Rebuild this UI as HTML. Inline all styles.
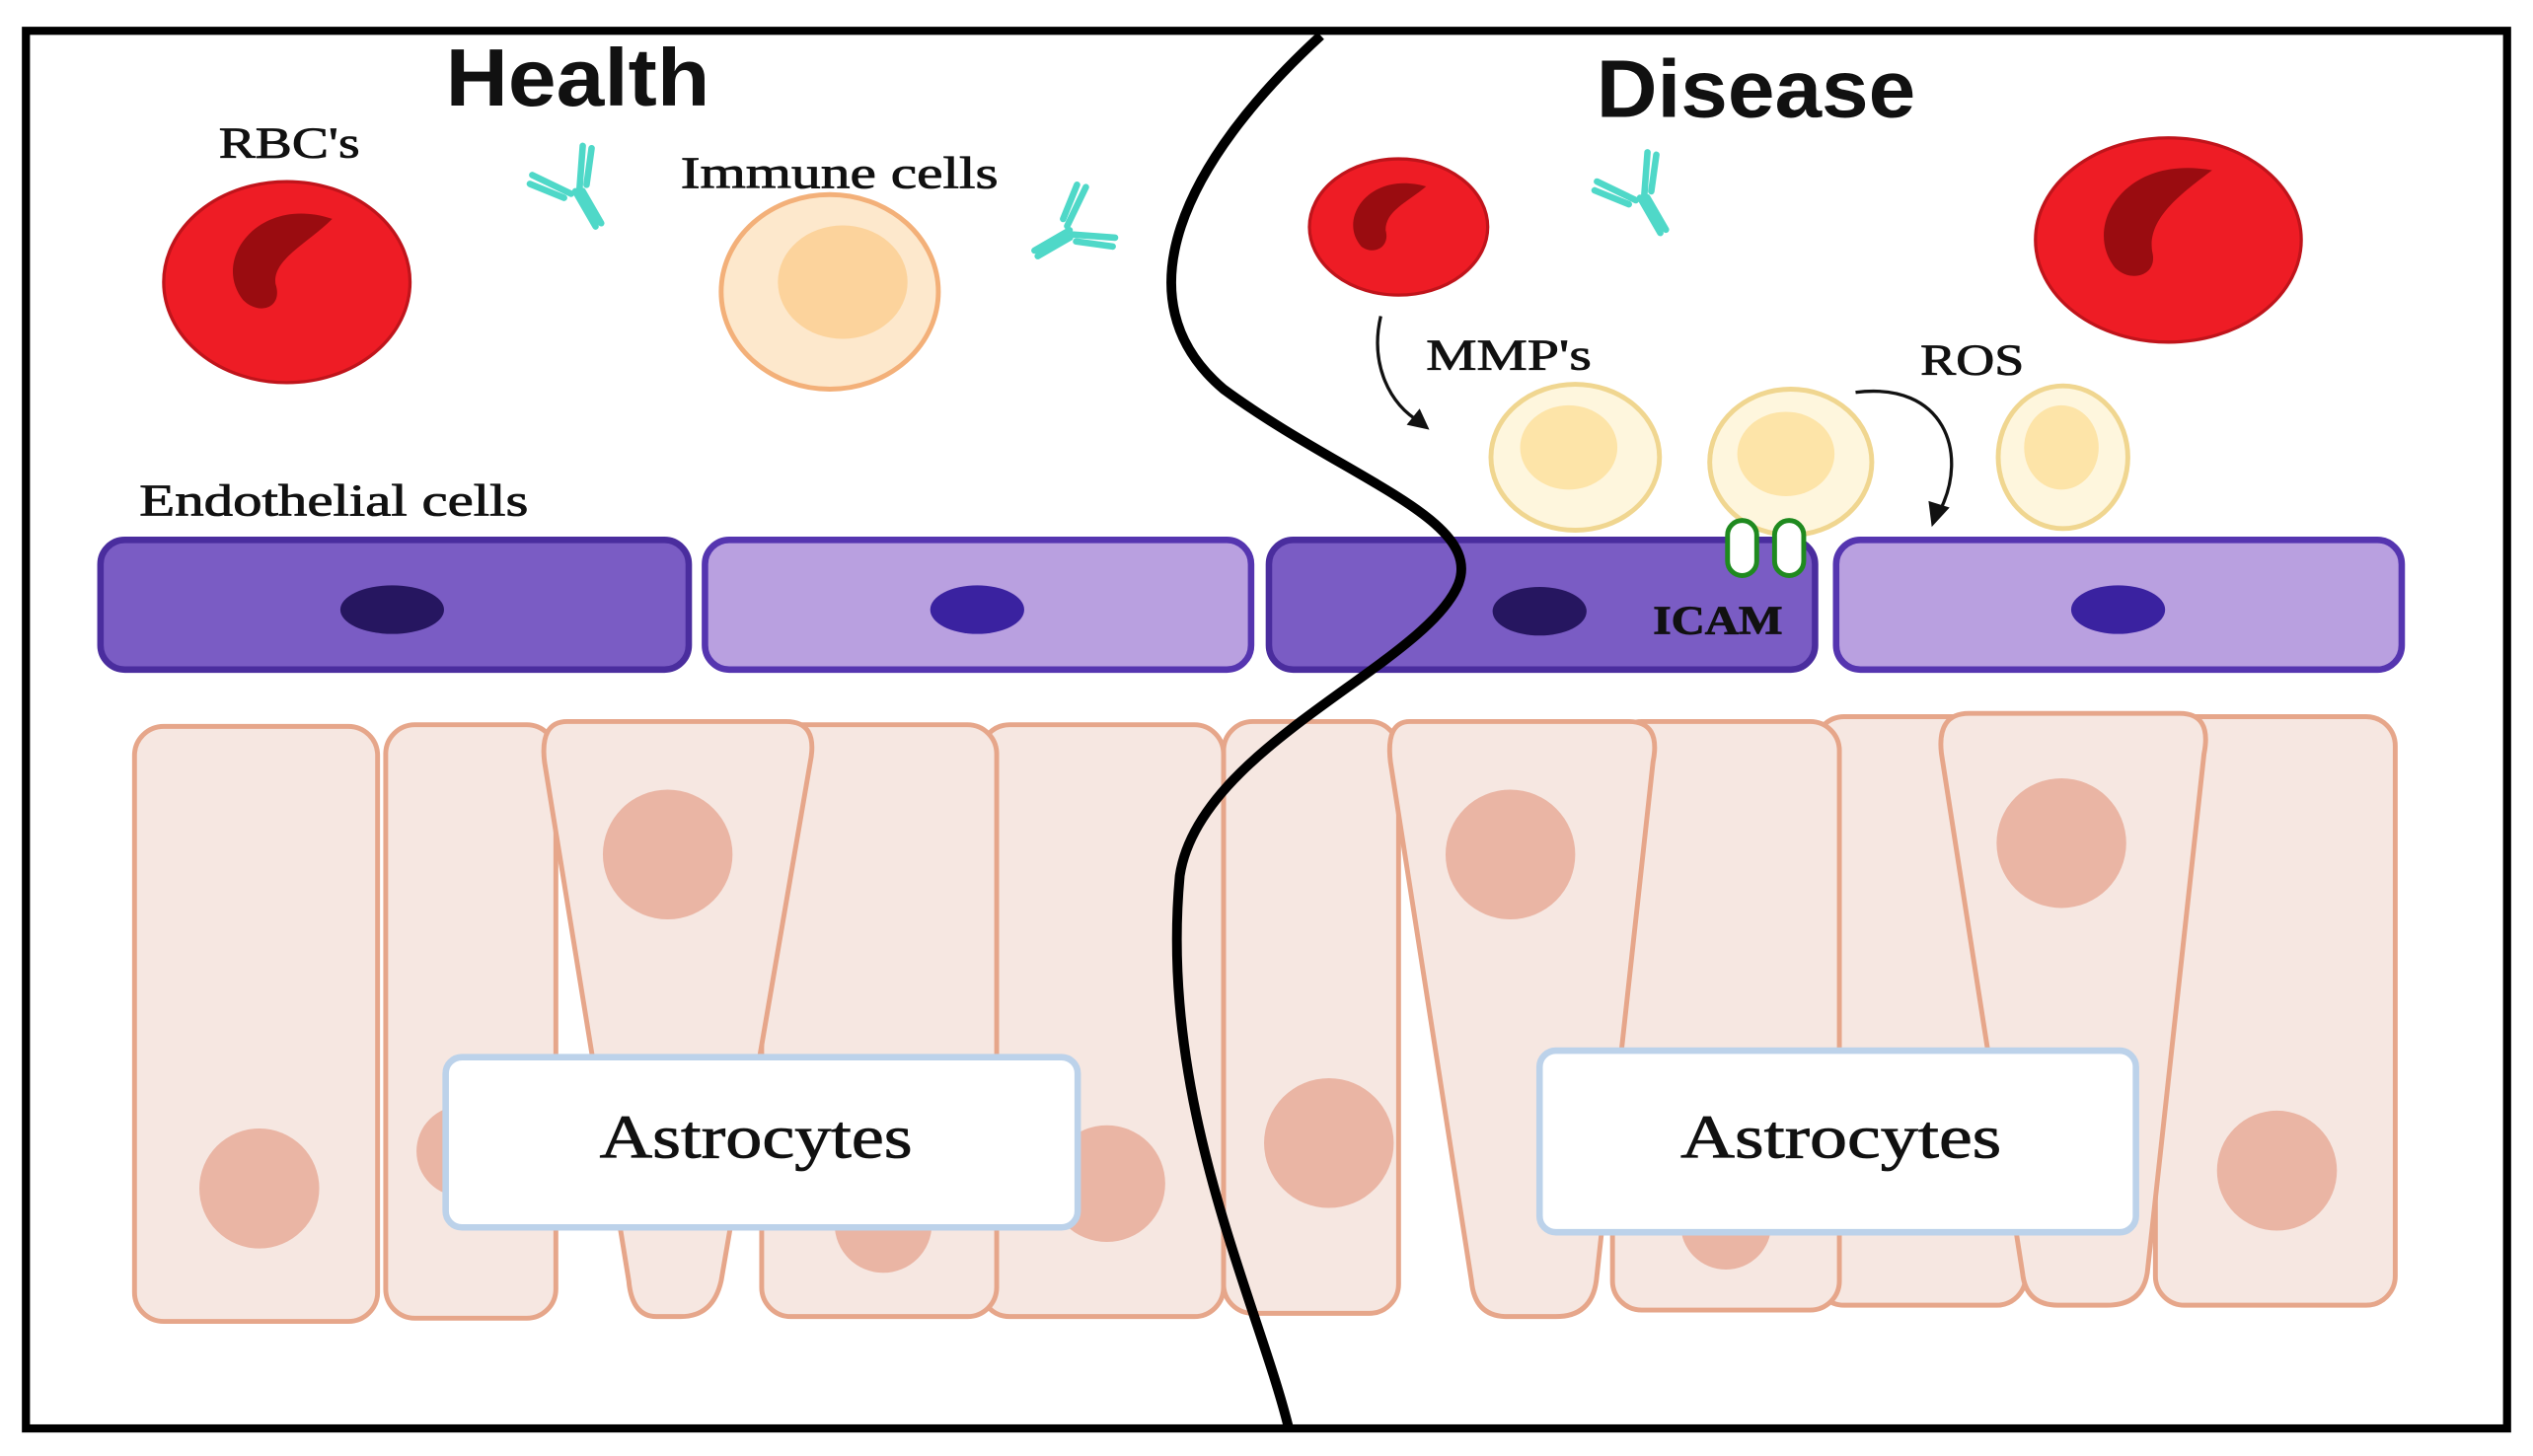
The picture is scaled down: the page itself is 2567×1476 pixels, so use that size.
<!DOCTYPE html>
<html><head><meta charset="utf-8"><style>
html,body{margin:0;padding:0;background:#fff;}
svg{display:block;}
.t{font-family:"Liberation Serif",serif;fill:#111;stroke:#111;stroke-width:0.5;}
.h{font-family:"Liberation Sans",sans-serif;font-weight:bold;fill:#111;}
</style></head><body>
<svg width="2567" height="1476" viewBox="0 0 1563 898" preserveAspectRatio="none" xmlns="http://www.w3.org/2000/svg">
<rect x="0" y="0" width="1563" height="898" fill="#fff"/>
<!-- astrocytes -->
<g fill="#f6e7e1" stroke="#e6a68a" stroke-width="3">
<rect x="83" y="448" width="150" height="367" rx="18"/>
<rect x="238" y="447" width="105" height="366" rx="18"/>
<rect x="1330" y="442" width="148" height="363" rx="18"/>
<rect x="1120" y="442" width="130" height="363" rx="18"/>
<rect x="995" y="445" width="140" height="363" rx="18"/>
<rect x="755" y="445" width="108" height="365" rx="18"/>
<rect x="605" y="447" width="150" height="365" rx="18"/>
<rect x="470" y="447" width="145" height="365" rx="18"/>
<path d="M350,445 L485,445 Q505,445 500,470 L445,790 Q440,812 420,812 L405,812 Q390,812 388,790 L336,470 Q333,445 350,445Z"/>
<path d="M870,445 L1005,445 Q1025,445 1020,470 L985,790 Q982,812 960,812 L930,812 Q910,812 908,790 L858,470 Q855,445 870,445Z"/>
<path d="M1215,440 L1345,440 Q1365,440 1360,465 L1325,785 Q1322,805 1300,805 L1270,805 Q1250,805 1248,785 L1198,465 Q1195,440 1215,440Z"/>
</g>
<g fill="#eab5a4">
<circle cx="412" cy="527" r="40"/>
<circle cx="160" cy="733" r="37"/>
<circle cx="683" cy="730" r="36"/>
<circle cx="545" cy="755" r="30"/>
<circle cx="932" cy="527" r="40"/>
<circle cx="820" cy="705" r="40"/>
<circle cx="1272" cy="520" r="40"/>
<circle cx="1405" cy="722" r="37"/>
<circle cx="1065" cy="755" r="28"/>
<circle cx="285" cy="710" r="28"/>
</g>
<!-- label boxes -->
<rect x="275" y="652" width="390" height="105" rx="10" fill="#fff" stroke="#bcd2ea" stroke-width="4"/>
<rect x="950" y="648" width="368" height="112" rx="10" fill="#fff" stroke="#bcd2ea" stroke-width="4"/>
<text class="t" x="370" y="714" font-size="38" textLength="193" lengthAdjust="spacingAndGlyphs">Astrocytes</text>
<text class="t" x="1037" y="714" font-size="38" textLength="198" lengthAdjust="spacingAndGlyphs">Astrocytes</text>
<!-- endothelial -->
<rect x="62" y="333" width="363" height="80" rx="15" fill="#7a5cc4" stroke="#4a2d9e" stroke-width="4"/>
<rect x="435" y="333" width="337" height="80" rx="15" fill="#b9a0e0" stroke="#5535b0" stroke-width="4"/>
<rect x="783" y="333" width="337" height="80" rx="15" fill="#7a5cc4" stroke="#4a2d9e" stroke-width="4"/>
<rect x="1133" y="333" width="349" height="80" rx="15" fill="#b9a0e0" stroke="#5535b0" stroke-width="4"/>
<ellipse cx="242" cy="376" rx="32" ry="15" fill="#261660"/>
<ellipse cx="603" cy="376" rx="29" ry="15" fill="#3a22a0"/>
<ellipse cx="950" cy="377" rx="29" ry="15" fill="#261660"/>
<ellipse cx="1307" cy="376" rx="29" ry="15" fill="#3a22a0"/>
<text class="t" x="1020" y="391" font-size="25" font-weight="bold" textLength="80" lengthAdjust="spacingAndGlyphs">ICAM</text>
<text class="t" x="86" y="318" font-size="28" textLength="240" lengthAdjust="spacingAndGlyphs">Endothelial cells</text>
<!-- RBCs -->
<g>
<ellipse cx="177" cy="174" rx="76" ry="62" fill="#ee1c25" stroke="#c0141b" stroke-width="2"/>
<path d="M205,135 C160,120 130,160 150,185 C160,195 175,190 170,175 C168,160 190,150 205,135Z" fill="#9a0c10"/>
<ellipse cx="863" cy="140" rx="55" ry="42" fill="#ee1c25" stroke="#c0141b" stroke-width="2"/>
<path d="M880,115 C845,105 825,135 840,152 C848,158 858,152 855,142 C855,130 868,125 880,115Z" fill="#9a0c10"/>
<ellipse cx="1338" cy="148" rx="82" ry="63" fill="#ee1c25" stroke="#c0141b" stroke-width="2"/>
<path d="M1365,105 C1310,95 1285,140 1305,165 C1315,175 1332,170 1328,155 C1325,135 1345,120 1365,105Z" fill="#9a0c10"/>
</g>
<!-- immune cells -->
<ellipse cx="512" cy="180" rx="67" ry="60" fill="#fde8cc" stroke="#f3b079" stroke-width="3"/>
<ellipse cx="520" cy="174" rx="40" ry="35" fill="#fcd39c"/>
<g fill="#fef6dd" stroke="#f0d690" stroke-width="3">
<ellipse cx="972" cy="282" rx="52" ry="45"/>
<ellipse cx="1105" cy="285" rx="50" ry="45"/>
<ellipse cx="1273" cy="282" rx="40" ry="44"/>
</g>
<g fill="#fde4a8">
<ellipse cx="968" cy="276" rx="30" ry="26"/>
<ellipse cx="1102" cy="280" rx="30" ry="26"/>
<ellipse cx="1272" cy="276" rx="23" ry="26"/>
</g>
<!-- ICAM pills -->
<rect x="1066" y="321" width="18" height="34" rx="9" fill="#fff" stroke="#1f8a1f" stroke-width="3"/>
<rect x="1095" y="321" width="18" height="34" rx="9" fill="#fff" stroke="#1f8a1f" stroke-width="3"/>
<!-- antibodies -->
<g stroke="#4fd8c8" stroke-width="4" fill="none" stroke-linecap="round">
<g transform="translate(355,118) rotate(-30)"><path d="M0,0 L0,25 M-3,0 L-18,-22 M3,0 L18,-22 M-8,0 L-22,-18 M8,0 L22,-18 M4,2 L4,25"/></g>
<g transform="translate(660,142) rotate(60)"><path d="M0,0 L0,25 M-3,0 L-18,-22 M3,0 L18,-22 M-8,0 L-22,-18 M8,0 L22,-18 M4,2 L4,25"/></g>
<g transform="translate(1012,122) rotate(-30)"><path d="M0,0 L0,25 M-3,0 L-18,-22 M3,0 L18,-22 M-8,0 L-22,-18 M8,0 L22,-18 M4,2 L4,25"/></g>
</g>
<!-- arrows -->
<path d="M852,195 C845,225 858,250 876,260" stroke="#111" stroke-width="2" fill="none"/>
<path d="M882,265 L868,262 L876,252Z" fill="#111"/>
<path d="M1145,242 C1200,235 1215,280 1197,315" stroke="#111" stroke-width="2" fill="none"/>
<path d="M1192,325 L1190,309 L1203,313Z" fill="#111"/>
<!-- texts -->
<text class="h" x="275" y="65" font-size="50" textLength="163" lengthAdjust="spacingAndGlyphs">Health</text>
<text class="h" x="985" y="72" font-size="50" textLength="197" lengthAdjust="spacingAndGlyphs">Disease</text>
<text class="t" x="135" y="97" font-size="27" textLength="87" lengthAdjust="spacingAndGlyphs">RBC's</text>
<text class="t" x="420" y="116" font-size="28" textLength="196" lengthAdjust="spacingAndGlyphs">Immune cells</text>
<text class="t" x="880" y="228" font-size="27" textLength="102" lengthAdjust="spacingAndGlyphs">MMP's</text>
<text class="t" x="1185" y="231" font-size="27" textLength="64" lengthAdjust="spacingAndGlyphs">ROS</text>
<!-- dividing curve -->
<path d="M815,22 C730,100 690,185 755,240 C830,295 915,320 900,360 C880,410 740,460 728,540 C715,680 775,800 795,880" stroke="#000" stroke-width="6" fill="none"/>
<!-- border -->
<rect x="16" y="19" width="1531" height="862" fill="none" stroke="#000" stroke-width="5"/>
</svg>
</body></html>
